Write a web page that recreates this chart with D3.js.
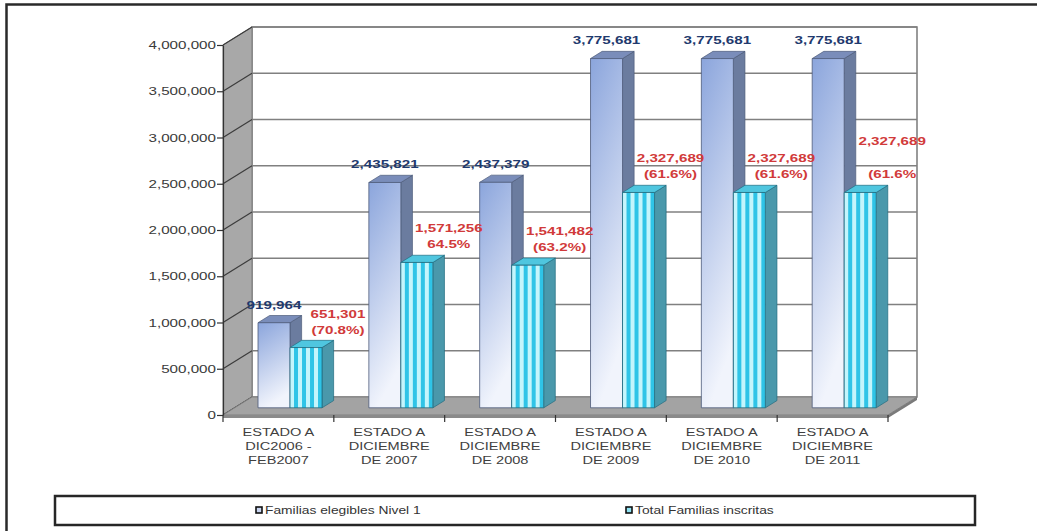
<!DOCTYPE html>
<html>
<head>
<meta charset="utf-8">
<script src="https://cdn.jsdelivr.net/npm/d3@7"></script>
<style>
  body { margin: 0; background: #fff; }
  text { font-family: "Liberation Sans", Arial, sans-serif; }
</style>
</head>
<body>
<script>
// Data
const categories = ["c2006", "c2007", "c2008", "c2009", "c2010", "c2011"];
const categoryLines = [
    ["ESTADO A", "DIC2006 -", "FEB2007"],
    ["ESTADO A", "DICIEMBRE", "DE 2007"],
    ["ESTADO A", "DICIEMBRE", "DE 2008"],
    ["ESTADO A", "DICIEMBRE", "DE 2009"],
    ["ESTADO A", "DICIEMBRE", "DE 2010"],
    ["ESTADO A", "DICIEMBRE", "DE 2011"]
];
const elegibles = [919964, 2435821, 2437379, 3775681, 3775681, 3775681];
const inscritas = [651301, 1571256, 1541482, 2327689, 2327689, 2327689];
const inscritasPct = ["(70.8%)", "64.5%", "(63.2%)", "(61.6%)", "(61.6%)", "(61.6%"];
const seriesNames = ["Familias elegibles Nivel 1", "Total Familias inscritas"];

const width = 1037;
const height = 531;
const SX = 1.38; // the picture is stretched horizontally, so is its text

// Plot geometry (front plane + depth offset)
const x0 = 223, x1 = 888;
const DX = 29, DY = 18;
const z0 = 0.4, z1 = 0.8;

const y = d3.scaleLinear().domain([0, 4000000]).range([415, 45]);
const xb = d3.scaleBand().domain(categories).range([x0, x1]);
const groupW = 64;
const xs = d3.scaleBand().domain(seriesNames).range([0, groupW]);
const fmt = d3.format(",");

const proj = (x, v, z) => [x + z * DX, y(v) - z * DY];
const poly = pts => "M" + pts.map(p => p.join(",")).join("L") + "Z";

const svg = d3.select("body").append("svg")
    .attr("width", width)
    .attr("height", height);

const defs = svg.append("defs");
const grad = defs.append("linearGradient")
    .attr("id", "blueGrad")
    .attr("x1", 0).attr("y1", 0).attr("x2", 0.25).attr("y2", 1);
grad.append("stop").attr("offset", "0%").attr("stop-color", "#8ba5dc");
grad.append("stop").attr("offset", "100%").attr("stop-color", "#f1f4fc");

// Outer frame
svg.append("rect")
    .attr("x", 6.5).attr("y", 4.5)
    .attr("width", 1045).attr("height", 560)
    .attr("fill", "none")
    .attr("stroke", "#2a2a2a")
    .attr("stroke-width", 2.5);

const plot = svg.append("g");
const yTicks = y.ticks(8);
const vMax = y.domain()[1];

// Back wall
plot.append("path")
    .attr("d", poly([proj(x0, 0, 1), proj(x1, 0, 1), proj(x1, vMax, 1), proj(x0, vMax, 1)]))
    .attr("fill", "#fff")
    .attr("stroke", "#7a7a7a")
    .attr("stroke-width", 1.5);

// Side wall
plot.append("path")
    .attr("d", poly([proj(x0, 0, 0), proj(x0, 0, 1), proj(x0, vMax, 1), proj(x0, vMax, 0)]))
    .attr("fill", "#a8a8a8")
    .attr("stroke", "#7a7a7a");

// Gridlines on back wall and side wall
plot.append("g")
    .selectAll("path")
    .data(yTicks.filter(t => t > 0))
    .join("path")
        .attr("d", t => "M" + proj(x0, t, 1) + "L" + proj(x1, t, 1))
        .attr("stroke", "#808080")
        .attr("stroke-width", 1.5);
plot.append("g")
    .selectAll("path")
    .data(yTicks)
    .join("path")
        .attr("d", t => "M" + proj(x0, t, 0) + "L" + proj(x0, t, 1))
        .attr("stroke", "#3c3c3c")
        .attr("stroke-width", 1.2);

// Floor with a thin slab
const slab = 3;
plot.append("path")
    .attr("d", poly([proj(x0, 0, 0), proj(x1, 0, 0), proj(x1, 0, 1), proj(x0, 0, 1)]))
    .attr("fill", "#a3a3a3")
    .attr("stroke", "#808080");
plot.append("path")
    .attr("d", poly([proj(x0, 0, 0), proj(x1, 0, 0),
                     [proj(x1, 0, 0)[0], proj(x1, 0, 0)[1] + slab],
                     [proj(x0, 0, 0)[0], proj(x0, 0, 0)[1] + slab]]))
    .attr("fill", "#8a8a8a");
plot.append("path")
    .attr("d", poly([proj(x1, 0, 0), proj(x1, 0, 1),
                     [proj(x1, 0, 1)[0], proj(x1, 0, 1)[1] + slab],
                     [proj(x1, 0, 0)[0], proj(x1, 0, 0)[1] + slab]]))
    .attr("fill", "#7a7a7a");

// Bars
function drawBar(g, xl, w, v, front, side, top, stroke) {
    g.append("path")
        .attr("d", poly([proj(xl + w, 0, z0), proj(xl + w, v, z0), proj(xl + w, v, z1), proj(xl + w, 0, z1)]))
        .attr("fill", side).attr("stroke", stroke).attr("stroke-width", 0.7);
    g.append("path")
        .attr("d", poly([proj(xl, v, z0), proj(xl + w, v, z0), proj(xl + w, v, z1), proj(xl, v, z1)]))
        .attr("fill", top).attr("stroke", stroke).attr("stroke-width", 0.7);
    g.append("path")
        .attr("d", poly([proj(xl, 0, z0), proj(xl + w, 0, z0), proj(xl + w, v, z0), proj(xl, v, z0)]))
        .attr("fill", front).attr("stroke", stroke).attr("stroke-width", 0.8);
}

const bars = plot.append("g");
categories.forEach((c, i) => {
    const gx = xb(c) + (xb.bandwidth() - groupW) / 2;
    const g = bars.append("g");

    const bx = gx + xs(seriesNames[0]);
    drawBar(g, bx, xs.bandwidth(), elegibles[i], "url(#blueGrad)", "#6b7c9f", "#7a8dba", "#4d5b7a");

    const cx = gx + xs(seriesNames[1]);
    const pat = defs.append("pattern")
        .attr("id", "stripe" + i)
        .attr("patternUnits", "userSpaceOnUse")
        .attr("x", cx + z0 * DX)
        .attr("width", 8).attr("height", 10);
    pat.append("rect").attr("width", 8).attr("height", 10).attr("fill", "#c4f5fc");
    pat.append("rect").attr("x", 4).attr("width", 4).attr("height", 10).attr("fill", "#2fc4e7");
    drawBar(g, cx, xs.bandwidth(), inscritas[i], `url(#stripe${i})`, "#4a98ab", "#4fc6df", "#1f6c80");
});

// Y axis
const yAxis = plot.append("g")
    .attr("transform", `translate(${x0},0)`)
    .call(d3.axisLeft(y).ticks(8).tickFormat(fmt).tickSizeInner(6).tickSizeOuter(0).tickPadding(0));
yAxis.select(".domain").attr("stroke", "#333").attr("stroke-width", 1.2);
yAxis.selectAll(".tick line").attr("stroke", "#333").attr("stroke-width", 1.2);
yAxis.selectAll(".tick text")
    .attr("x", -7 / SX)
    .attr("transform", `scale(${SX},1)`)
    .attr("fill", "#3a3a3a")
    .style("font-size", "11px")
    .style("font-family", "'Liberation Sans', Arial, sans-serif");

// Category ticks on the front edge of the floor
plot.append("g")
    .selectAll("line")
    .data(categories.map(c => xb(c)).concat([x1]))
    .join("line")
        .attr("x1", d => d).attr("x2", d => d)
        .attr("y1", y(0)).attr("y2", y(0) + 7)
        .attr("stroke", "#333")
        .attr("stroke-width", 1.2);

// Category labels
const catG = plot.append("g");
categories.forEach((c, i) => {
    const t = catG.append("text")
        .attr("transform", `translate(${xb(c) + xb.bandwidth() / 2},436) scale(${SX * 0.92},1)`)
        .attr("text-anchor", "middle")
        .attr("fill", "#3f3f3f")
        .style("font-size", "11.5px");
    categoryLines[i].forEach((line, k) => {
        t.append("tspan").attr("x", 0).attr("y", k * 14).text(line);
    });
});

// Value labels
const labels = plot.append("g").style("font-weight", "bold").style("font-size", "11px");
categories.forEach((c, i) => {
    const gx = xb(c) + (xb.bandwidth() - groupW) / 2;
    const bw = xs.bandwidth();

    const bcx = gx + xs(seriesNames[0]) + bw / 2 + z0 * DX;
    const btop = y(elegibles[i]) - z1 * DY;
    labels.append("text")
        .attr("transform", `translate(${bcx},${btop - 7}) scale(${SX},1)`)
        .attr("text-anchor", "middle")
        .attr("fill", "#1f3a6e")
        .text(fmt(elegibles[i]));

    const ccx = gx + xs(seriesNames[1]) + bw / 2 + z0 * DX + 32;
    const ctop = y(inscritas[i]) - z0 * DY;
    const lift = i === categories.length - 1 ? 17 : 0;
    labels.append("text")
        .attr("transform", `translate(${ccx},${ctop - 30 - lift}) scale(${SX},1)`)
        .attr("text-anchor", "middle")
        .attr("fill", "#d13a3a")
        .text(fmt(inscritas[i]));
    labels.append("text")
        .attr("transform", `translate(${ccx},${ctop - 14}) scale(${SX},1)`)
        .attr("text-anchor", "middle")
        .attr("fill", "#d13a3a")
        .text(inscritasPct[i]);
});

// Legend
const legend = svg.append("g");
legend.append("rect")
    .attr("x", 55).attr("y", 496)
    .attr("width", 920).attr("height", 29)
    .attr("fill", "#fff")
    .attr("stroke", "#262626")
    .attr("stroke-width", 2.5);
const legendX = [256, 626];
const legendFill = ["#c9d5f1", "#8fe3f3"];
seriesNames.forEach((name, i) => {
    legend.append("rect")
        .attr("x", legendX[i]).attr("y", 507)
        .attr("width", 6).attr("height", 6)
        .attr("fill", legendFill[i])
        .attr("stroke", "#111")
        .attr("stroke-width", 1.6);
    legend.append("text")
        .attr("transform", `translate(${legendX[i] + 9},514) scale(${SX},1)`)
        .attr("fill", "#333")
        .style("font-size", "10px")
        .text(name);
});
</script>
</body>
</html>
